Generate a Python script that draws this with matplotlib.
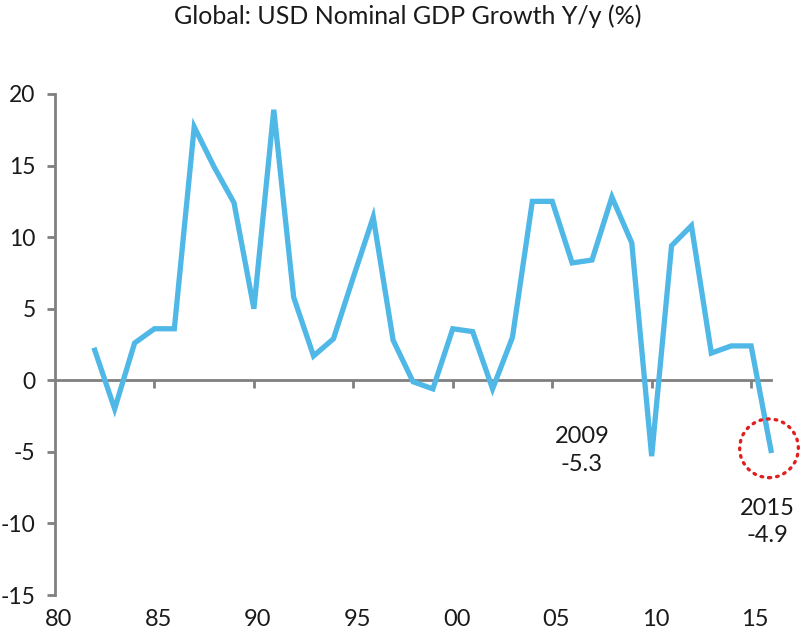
import matplotlib
matplotlib.use("Agg")
import matplotlib.pyplot as plt
from matplotlib.patches import Ellipse

plt.rcParams['font.family'] = ['Lato', 'DejaVu Sans']

# Data: global USD nominal GDP growth, y/y %
years = list(range(1981, 2016))
growth = [2.1, -2.0, 2.6, 3.6, 3.6, 17.7, 14.9, 12.4, 5.0, 18.9,
          5.8, 1.7, 2.9, 7.2, 11.4, 2.8, -0.1, -0.6, 3.6, 3.4,
          -0.6, 3.0, 12.5, 12.5, 8.2, 8.4, 12.8, 9.6, -5.3, 9.4,
          10.8, 1.9, 2.4, 2.4, -4.9]
x_ticks = [1980, 1985, 1990, 1995, 2000, 2005, 2010, 2015]
x_ticklabels = ["80", "85", "90", "95", "00", "05", "10", "15"]
y_ticks = [-15, -10, -5, 0, 5, 10, 15, 20]
title = "Global: USD Nominal GDP Growth Y/y (%)"

W, H = 800, 633
fig = plt.figure(figsize=(W / 100, H / 100), dpi=100)
ax = fig.add_axes([55 / W, 1 - 595 / H, (771 - 55) / W, (595 - 94) / H])

axis_grey = '#808080'
line_col = '#4FB8E7'
txt_col = '#1a1a1a'
fs = 17

# values are plotted at year end (year + 1 on the axis)
xpos = [y + 1 for y in years]
ax.plot(xpos, growth, color=line_col, lw=3.8, solid_joinstyle='miter',
        clip_on=False, zorder=3)

ax.set_xlim(1980, 2016)
ax.set_ylim(-15, 20)

for s in ['top', 'right']:
    ax.spines[s].set_visible(False)
ax.spines['bottom'].set_position(('data', 0))
ax.spines['bottom'].set_color(axis_grey)
ax.spines['bottom'].set_linewidth(2.0)
ax.spines['left'].set_color(axis_grey)
ax.spines['left'].set_linewidth(2.0)

ax.set_yticks(y_ticks)
ax.set_yticklabels([str(v) for v in y_ticks])
ax.tick_params(axis='y', direction='out', length=6, width=2, color=axis_grey,
               labelsize=16.5, pad=8, labelcolor=txt_col)

ax.set_xticks(x_ticks[1:])
ax.tick_params(axis='x', direction='out', length=6, width=2, color=axis_grey,
               labelbottom=False)
for xt, lab in zip(x_ticks, x_ticklabels):
    ax.text(xt + 0.2, -0.028, lab, transform=ax.get_xaxis_transform(),
            ha='center', va='top', fontsize=fs, color=txt_col)

fig.text(0.51, 1 - 16 / H, title, ha='center', va='center', fontsize=18,
         color=txt_col)

# callouts
ax.text(2006.5, -4.9, "2009\n-5.3", ha='center', va='center', fontsize=fs,
        color=txt_col, linespacing=1.4)
ax.text(2015.8, -9.9, "2015\n-4.9", ha='center', va='center', fontsize=fs,
        color=txt_col, linespacing=1.4, clip_on=False)

last_x, last_y = xpos[-1], growth[-1]
circ = Ellipse((last_x - 0.1, last_y + 0.15), width=2.95, height=4.1,
               fill=False, edgecolor='#E02020', lw=2.4, linestyle=(0, (0.5, 1.8)),
               capstyle='round', clip_on=False, zorder=4)
ax.add_patch(circ)

fig.savefig("out.png", dpi=100, facecolor='white')
